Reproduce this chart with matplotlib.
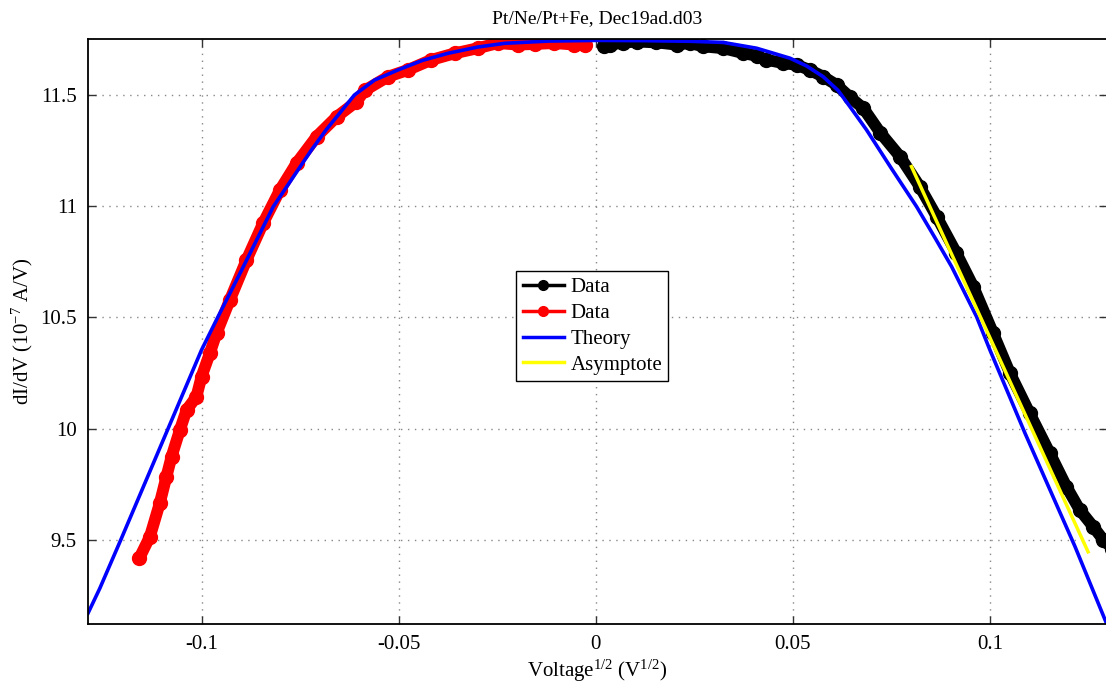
import matplotlib
matplotlib.use('Agg')
import matplotlib.pyplot as plt
from matplotlib.lines import Line2D

# valores
theory_x = [-0.1288, -0.1258, -0.1205, -0.1085, -0.1000, -0.0958, -0.0894, -0.0818,
            -0.0721, -0.0684, -0.0612, -0.0561, -0.0502, -0.0440, -0.0375, -0.0300,
            -0.0231, -0.0120, 0.0, 0.0120, 0.0240, 0.0323, 0.0408, 0.0493, 0.0535,
            0.0577, 0.0615, 0.0645, 0.0687, 0.0750, 0.0814, 0.0860, 0.0903, 0.0966,
            0.1000, 0.1089, 0.1216, 0.1297]
theory_y = [9.171, 9.283, 9.50, 10.00, 10.354, 10.504, 10.728, 10.998,
            11.253, 11.343, 11.50, 11.567, 11.612, 11.655, 11.687, 11.715,
            11.732, 11.742, 11.745, 11.744, 11.741, 11.736, 11.71, 11.665, 11.63,
            11.582, 11.52, 11.447, 11.343, 11.17, 10.998, 10.86, 10.728, 10.504,
            10.354, 9.98, 9.47, 9.12]

black_x = [0.0020, 0.0036, 0.0070, 0.0104, 0.0154, 0.0205, 0.0239, 0.0273, 0.0323,
           0.0374, 0.0408, 0.0433, 0.0476, 0.0510, 0.0543, 0.0577, 0.0611, 0.0645,
           0.0679, 0.0722, 0.0772, 0.0822, 0.0865, 0.0915, 0.0958, 0.1008, 0.1051,
           0.1101, 0.1152, 0.1194, 0.1228, 0.1262, 0.1288, 0.1310]
black_y = [11.72, 11.726, 11.735, 11.740, 11.736, 11.726, 11.733, 11.718, 11.71,
           11.688, 11.676, 11.658, 11.643, 11.635, 11.612, 11.582, 11.545, 11.49,
           11.44, 11.33, 11.223, 11.088, 10.953, 10.789, 10.638, 10.43, 10.249,
           10.069, 9.89, 9.74, 9.635, 9.56, 9.50, 9.46]

red_x = [-0.1158, -0.1131, -0.1106, -0.1089, -0.1076, -0.1055, -0.1038, -0.1013,
         -0.1000, -0.0979, -0.0962, -0.0928, -0.0886, -0.0844, -0.0801, -0.0759,
         -0.0708, -0.0657, -0.0607, -0.0586, -0.0527, -0.0477, -0.0418, -0.0358,
         -0.0299, -0.0248, -0.0198, -0.0155, -0.0105, -0.0054, -0.0028]
red_y = [9.418, 9.515, 9.665, 9.785, 9.875, 9.994, 10.084, 10.144,
         10.234, 10.339, 10.429, 10.579, 10.758, 10.923, 11.073, 11.193,
         11.313, 11.402, 11.47, 11.52, 11.582, 11.612, 11.657, 11.687,
         11.71, 11.733, 11.726, 11.729, 11.733, 11.726, 11.726]

asym_x = [0.0801, 0.1249]
asym_y = [11.178, 9.447]

etiquetas = ['Data', 'Data', 'Theory', 'Asymptote']

plt.rcParams['font.family'] = ['Liberation Serif', 'DejaVu Serif']
plt.rcParams['mathtext.fontset'] = 'custom'
plt.rcParams['mathtext.rm'] = 'Liberation Serif'
plt.rcParams['mathtext.it'] = 'Liberation Serif:italic'

fig = plt.figure(figsize=(11.06, 6.87), dpi=100)
ax = fig.add_axes([88 / 1106, 1 - 623.7 / 687, (1107 - 88) / 1106, (623.7 - 39.3) / 687])

ax.plot(black_x, black_y, '-o', color='black', lw=8.5, ms=10, solid_capstyle='round')
ax.plot(red_x, red_y, '-o', color='red', lw=8.5, ms=10, solid_capstyle='round')
ax.plot(theory_x, theory_y, '-', color='blue', lw=2.6)
ax.plot(asym_x, asym_y, '-', color='yellow', lw=2.5)

ax.set_xlim(-0.1288, 0.1297)
ax.set_ylim(9.124, 11.75)
ax.set_xticks([-0.1, -0.05, 0, 0.05, 0.1])
ax.set_xticklabels(['-0.1', '-0.05', '0', '0.05', '0.1'])
ax.set_yticks([9.5, 10, 10.5, 11, 11.5])
ax.set_yticklabels(['9.5', '10', '10.5', '11', '11.5'])

ax.grid(True, color='#888888', linestyle=(0, (1, 4)), lw=1)
ax.tick_params(direction='in', length=6, width=1, top=True, right=True,
               labelsize=15, color='#333333', pad=8)
for s in ax.spines.values():
    s.set_linewidth(1.3)

ax.set_title('Pt/Ne/Pt+Fe, Dec19ad.d03', fontsize=14, pad=12)
ax.set_xlabel('Voltage$^{1/2}$ (V$^{1/2}$)', fontsize=15)
ax.set_ylabel('dI/dV (10$^{-7}$ A/V)', fontsize=15)
ax.xaxis.set_label_coords(0.5, -0.058)
ax.yaxis.set_label_coords(-0.052, 0.5)

handles = [Line2D([], [], color='black', marker='o', lw=2.5, ms=7),
           Line2D([], [], color='red', marker='o', lw=2.5, ms=7),
           Line2D([], [], color='blue', lw=2.5),
           Line2D([], [], color='yellow', lw=2.5)]
leg = ax.legend(handles, etiquetas, loc='center', bbox_to_anchor=(0.495, 0.509),
                fontsize=15, fancybox=False, framealpha=1, edgecolor='black',
                handlelength=2.0, handletextpad=0.3, labelspacing=0.3, borderpad=0.3)
leg.get_frame().set_linewidth(1)

fig.savefig('out.png', dpi=100)
